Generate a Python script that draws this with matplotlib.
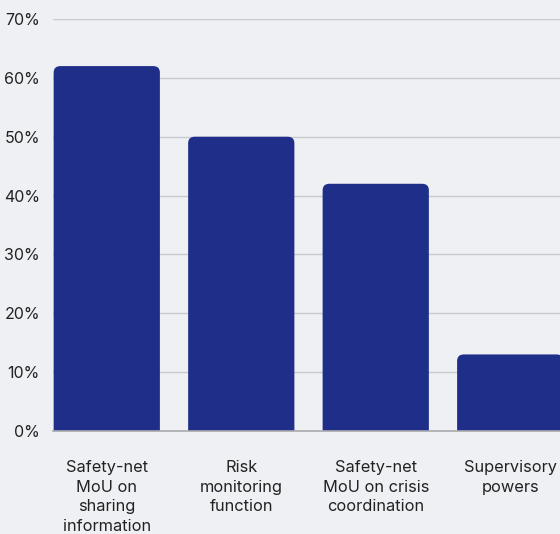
import matplotlib.pyplot as plt
from matplotlib.patches import FancyBboxPatch

categories = ['Safety-net\nMoU on\nsharing\ninformation', 'Risk\nmonitoring\nfunction',
              'Safety-net\nMoU on crisis\ncoordination', 'Supervisory\npowers']
values = [62, 50, 42, 13]
yticks = [0, 10, 20, 30, 40, 50, 60, 70]

plt.rcParams['font.family'] = ['Inter', 'DejaVu Sans']
bg = '#eff0f4'
bar_color = '#1f2f89'
text_color = '#222222'

fig = plt.figure(figsize=(5.6, 5.34), dpi=100, facecolor=bg)
ax = fig.add_axes([0.0946, 0.193, 0.9054, 0.7714], facecolor=bg)

ax.set_xlim(-0.40, 3.37)
ax.set_ylim(0, 70)

width = 0.79
for i, v in enumerate(values):
    # rounded top corners, bottom pushed below 0 so it is clipped off
    p = FancyBboxPatch((i - width / 2, -5), width, v + 5,
                       boxstyle='round,pad=0,rounding_size=0.05',
                       mutation_aspect=22.0,
                       facecolor=bar_color, edgecolor='none', zorder=3)
    ax.add_patch(p)

for y in yticks[1:]:
    ax.axhline(y, color='#c9cacf', lw=1.0, zorder=1)
ax.axhline(0, color='#a9aaae', lw=1.2, zorder=4, clip_on=False)

ax.set_yticks(yticks)
ax.set_yticklabels([f'{y}%' for y in yticks])
ax.set_xticks(range(len(categories)))
ax.set_xticklabels(categories, linespacing=1.38)
ax.tick_params(axis='y', length=0, pad=9.4, labelsize=11.5, labelcolor=text_color)
ax.tick_params(axis='x', length=0, pad=21, labelsize=11.8, labelcolor=text_color)

for s in ax.spines.values():
    s.set_visible(False)

fig.savefig('out.png', dpi=100, facecolor=bg)
